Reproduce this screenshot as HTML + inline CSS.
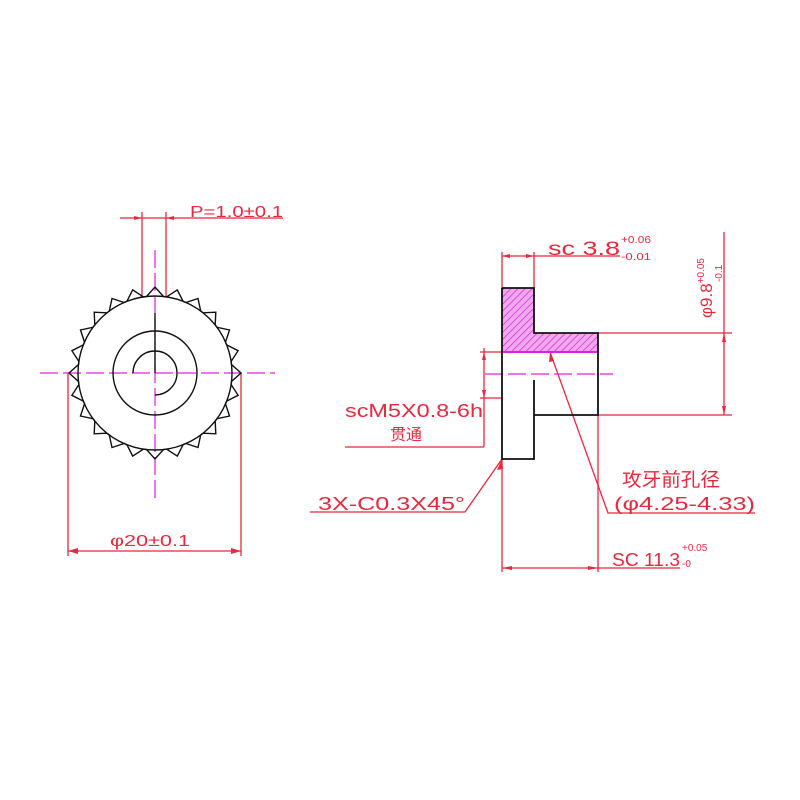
<!DOCTYPE html>
<html><head><meta charset="utf-8"><style>
html,body{margin:0;padding:0;background:#fff;width:800px;height:800px;overflow:hidden}
svg text{font-family:"Liberation Sans","Noto Sans CJK SC",sans-serif;fill:#e8283c}
</style></head><body>
<svg id="s" width="800" height="800" viewBox="0 0 800 800" xmlns="http://www.w3.org/2000/svg">
<defs>
<pattern id="h" width="5" height="5" patternUnits="userSpaceOnUse" patternTransform="rotate(45)">
<rect width="5" height="5" fill="#f2a8f0"/><line x1="0" y1="0" x2="0" y2="5" stroke="#d030d0" stroke-width="1.5"/></pattern>
</defs>
<g stroke="#e8283c" stroke-width="1.3" fill="none">
<line x1="120" y1="218" x2="283" y2="218"/>
<line x1="142" y1="212" x2="142" y2="296"/>
<line x1="166" y1="212" x2="166" y2="296"/>
<line x1="68" y1="373" x2="68" y2="556"/>
<line x1="241" y1="373" x2="241" y2="556"/>
<line x1="68" y1="551" x2="241" y2="551"/>
<line x1="502" y1="252" x2="502" y2="288"/>
<line x1="534" y1="252" x2="534" y2="288"/>
<line x1="502" y1="256" x2="620" y2="256"/>
<line x1="598" y1="333" x2="732" y2="333"/>
<line x1="598" y1="415" x2="732" y2="415"/>
<line x1="724" y1="232" x2="724" y2="415"/>
<line x1="484" y1="348" x2="484" y2="447"/>
<line x1="480" y1="352" x2="502" y2="352"/>
<line x1="480" y1="398" x2="502" y2="398"/>
<line x1="484" y1="447" x2="345" y2="447"/>
<polyline points="502,459 465,512 310,512"/>
<polyline points="550,352 608,513 755,513"/>
<line x1="502" y1="459" x2="502" y2="572"/>
<line x1="598" y1="415" x2="598" y2="572"/>
<line x1="502" y1="568" x2="680" y2="568"/>
</g>
<g fill="#e8283c">
<polygon points="142,218 134,216 134,220"/><polygon points="166,218 174,216 174,220"/>
<polygon points="68,551 78,548 78,554"/><polygon points="241,551 231,548 231,554"/>
<polygon points="502,256 510,254 510,258"/><polygon points="534,256 526,254 526,258"/>
<polygon points="724,333 722,342 726,342"/><polygon points="724,415 722,406 726,406"/>
<polygon points="484,352 482,360 486,360"/><polygon points="484,398 482,390 486,390"/>
<polygon points="502,459 497,470 503,469"/><polygon points="550,352 549,362 554,361"/>
<polygon points="502,568 512,566 512,570"/><polygon points="598,568 588,566 588,570"/>
</g>
<g stroke="#e020e0" stroke-width="1.2" stroke-dasharray="18,5">
<line x1="40" y1="373" x2="275" y2="373"/>
<line x1="155" y1="250" x2="155" y2="500"/>
<line x1="485" y1="374" x2="613" y2="374"/>
</g>
<g stroke="#111" stroke-width="1.4" fill="none">
<polygon id="gear" points=""/>
<circle cx="155" cy="373" r="77"/>
<circle cx="155" cy="373" r="42"/>
<path d="M133,373 A22,22 0 1 1 155,395"/>
<line x1="155" y1="313" x2="155" y2="373"/>
</g>
<path d="M502,288 H534 V333 H598 V352 H502 Z" fill="url(#h)"/>
<line x1="502" y1="352" x2="598" y2="352" stroke="#e020e0" stroke-width="2"/>
<g stroke="#111" stroke-width="1.8" fill="none">
<path d="M502,288 H534 V333 H598 V415 H534"/>
<path d="M502,288 V459 H534 V380"/>
</g>
<text x="190" y="217" font-size="16" textLength="93" lengthAdjust="spacingAndGlyphs">P=1.0±0.1</text>
<text x="110" y="546" font-size="16" textLength="80" lengthAdjust="spacingAndGlyphs">φ20±0.1</text>
<text x="548" y="255" font-size="19" textLength="72" lengthAdjust="spacingAndGlyphs">sc  3.8</text>
<text x="621" y="243" font-size="10" textLength="30" lengthAdjust="spacingAndGlyphs">+0.06</text>
<text x="621" y="260" font-size="10" textLength="30" lengthAdjust="spacingAndGlyphs">-0.01</text>
<text transform="translate(712,318) rotate(-90)" font-size="17">φ9.8<tspan font-size="10" dy="-8">+0.05</tspan></text>
<text transform="translate(722,282) rotate(-90)" font-size="10">-0.1</text>
<text x="345" y="417" font-size="18" textLength="138" lengthAdjust="spacingAndGlyphs">scM5X0.8-6h</text>
<text x="390" y="440" font-size="16">贯通</text>
<text x="318" y="510" font-size="18" textLength="147" lengthAdjust="spacingAndGlyphs">3X-C0.3X45°</text>
<text x="622" y="486" font-size="19" textLength="98" lengthAdjust="spacingAndGlyphs">攻牙前孔径</text>
<text x="614" y="510" font-size="18" textLength="141" lengthAdjust="spacingAndGlyphs">(φ4.25-4.33)</text>
<text x="612" y="566" font-size="18" textLength="68" lengthAdjust="spacingAndGlyphs">SC 11.3</text>
<text x="682" y="551" font-size="10">+0.05</text>
<text x="682" y="567" font-size="10">-0</text>
</svg>
<script>
var p=[],n=24,cx=155,cy=373,r0=77,r1=86;
for(var i=0;i<n;i++){var a=2*Math.PI*i/n,b=a+Math.PI/n*0.85,c=a-Math.PI/n*0.85;
p.push((cx+r0*Math.sin(c)).toFixed(1)+","+(cy-r0*Math.cos(c)).toFixed(1));
p.push((cx+r1*Math.sin(a)).toFixed(1)+","+(cy-r1*Math.cos(a)).toFixed(1));
p.push((cx+r0*Math.sin(b)).toFixed(1)+","+(cy-r0*Math.cos(b)).toFixed(1));}
document.getElementById("gear").setAttribute("points",p.join(" "));
</script>
</body></html>
